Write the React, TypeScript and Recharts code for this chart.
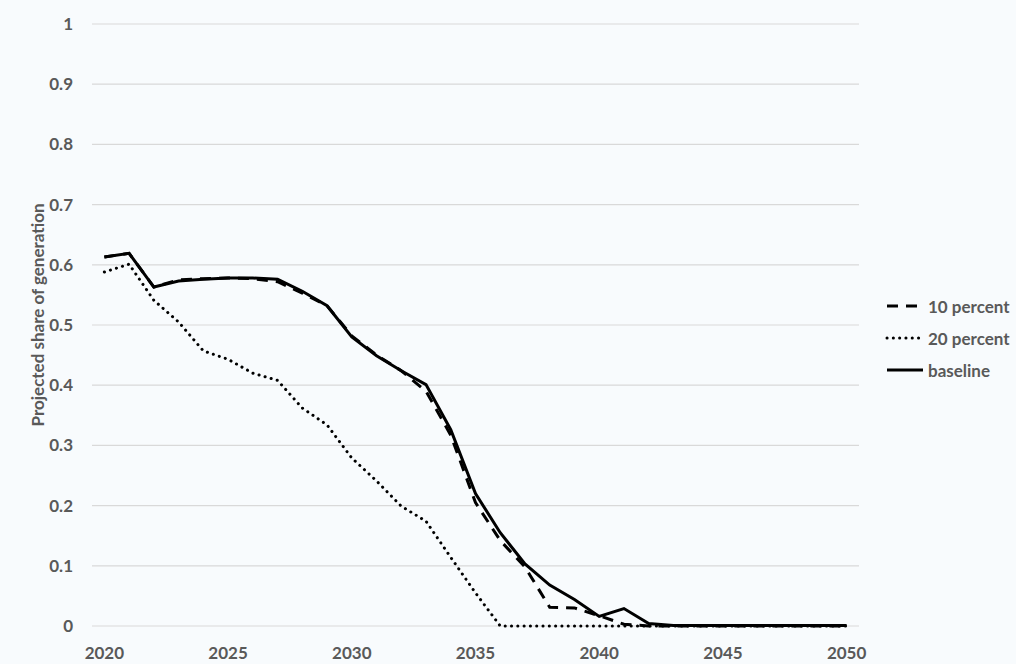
import React from "react";
import { LineChart, Line, XAxis, YAxis, CartesianGrid, Legend, Label } from "recharts";

const years = [
  "2020", "2021", "2022", "2023", "2024", "2025", "2026", "2027", "2028", "2029",
  "2030", "2031", "2032", "2033", "2034", "2035", "2036", "2037", "2038", "2039",
  "2040", "2041", "2042", "2043", "2044", "2045", "2046", "2047", "2048", "2049", "2050",
];

const tenPercent = [
  0.613, 0.619, 0.563, 0.575, 0.577, 0.578, 0.577, 0.572, 0.553, 0.532,
  0.482, 0.45, 0.424, 0.39, 0.317, 0.205, 0.142, 0.098, 0.031, 0.03,
  0.017, 0.003, 0, 0, 0, 0, 0, 0, 0, 0, 0,
];

const twentyPercent = [
  0.588, 0.601, 0.541, 0.505, 0.457, 0.443, 0.42, 0.408, 0.362, 0.334,
  0.279, 0.241, 0.199, 0.174, 0.114, 0.055, 0, 0, 0, 0,
  0, 0, 0, 0, 0, 0, 0, 0, 0, 0, 0,
];

const baseline = [
  0.613, 0.619, 0.563, 0.573, 0.576, 0.578, 0.578, 0.576, 0.556, 0.532,
  0.48, 0.449, 0.424, 0.401, 0.326, 0.22, 0.155, 0.103, 0.068, 0.044,
  0.016, 0.029, 0.004, 0.001, 0.001, 0.001, 0.001, 0.001, 0.001, 0.001, 0.001,
];

const yTicks = [0, 0.1, 0.2, 0.3, 0.4, 0.5, 0.6, 0.7, 0.8, 0.9, 1];

const data = years.map((year, i) => ({
  year,
  tenPercent: tenPercent[i],
  twentyPercent: twentyPercent[i],
  baseline: baseline[i],
}));

const FONT = "Lato, 'Open Sans', sans-serif";
const TEXT = "#595959";

const lineStyles: Record<string, { dash?: string; width: number }> = {
  tenPercent: { dash: "11 8", width: 3 },
  twentyPercent: { dash: "0.1 6.2", width: 3 },
  baseline: { width: 3 },
};

function YTitle(props: any) {
  const vb = props.viewBox || {};
  const cx = 37;
  const cy = vb.y + vb.height / 2 - 10;
  return (
    <text
      x={cx}
      y={cy}
      transform={`rotate(-90 ${cx} ${cy})`}
      textAnchor="middle"
      dominantBaseline="central"
      fill={TEXT}
      fontFamily={FONT}
      fontWeight={700}
      fontSize={17}
    >
      Projected share of generation
    </text>
  );
}

function renderLegend(props: any) {
  const { payload } = props;
  return (
    <div style={{ fontFamily: FONT, fontWeight: 700, fontSize: 17, color: TEXT }}>
      {payload.map((entry: any) => {
        const st = lineStyles[entry.dataKey] || { width: 3 };
        return (
          <div key={entry.value} style={{ display: "flex", alignItems: "center", height: 32, whiteSpace: "nowrap" }}>
            <svg width={42} height={10} style={{ overflow: "visible" }}>
              <line
                x1={1}
                y1={5}
                x2={37}
                y2={5}
                stroke="#000"
                strokeWidth={st.width}
                strokeDasharray={st.dash}
                strokeLinecap={entry.dataKey === "twentyPercent" ? "round" : "butt"}
              />
            </svg>
            <span>{entry.value}</span>
          </div>
        );
      })}
    </div>
  );
}

export default function App() {
  return (
    <div style={{ position: "fixed", inset: 0, background: "#f8fbfd" }}>
      <LineChart
        width={1016}
        height={664}
        data={data}
        margin={{ top: 24, right: 27, bottom: 8, left: 0 }}
      >
        <CartesianGrid vertical={false} stroke="#d9d9d9" strokeWidth={1.2} />
        <XAxis
          dataKey="year"
          scale="band"
          interval={4}
          height={30}
          axisLine={false}
          tickLine={false}
          tickSize={0}
          tickMargin={21}
          tick={{ fill: TEXT, fontFamily: FONT, fontWeight: 700, fontSize: 17 }}
        />
        <YAxis
          width={92}
          domain={[0, 1]}
          ticks={yTicks}
          axisLine={false}
          tickLine={false}
          tickSize={0}
          tickMargin={19}
          tick={{ fill: TEXT, fontFamily: FONT, fontWeight: 700, fontSize: 17 }}
        >
          <Label content={YTitle} />
        </YAxis>
        <Legend
          layout="vertical"
          align="right"
          verticalAlign="middle"
          content={renderLegend}
          wrapperStyle={{ position: "absolute", left: 886, top: 290, width: 130 }}
        />
        <Line
          dataKey="tenPercent"
          name="10 percent"
          stroke="#000"
          strokeWidth={3}
          strokeDasharray={lineStyles.tenPercent.dash}
          dot={false}
          activeDot={false}
          isAnimationActive={false}
        />
        <Line
          dataKey="twentyPercent"
          name="20 percent"
          stroke="#000"
          strokeWidth={3}
          strokeDasharray={lineStyles.twentyPercent.dash}
          strokeLinecap="round"
          dot={false}
          activeDot={false}
          isAnimationActive={false}
        />
        <Line
          dataKey="baseline"
          name="baseline"
          stroke="#000"
          strokeWidth={3}
          dot={false}
          activeDot={false}
          isAnimationActive={false}
        />
      </LineChart>
    </div>
  );
}
